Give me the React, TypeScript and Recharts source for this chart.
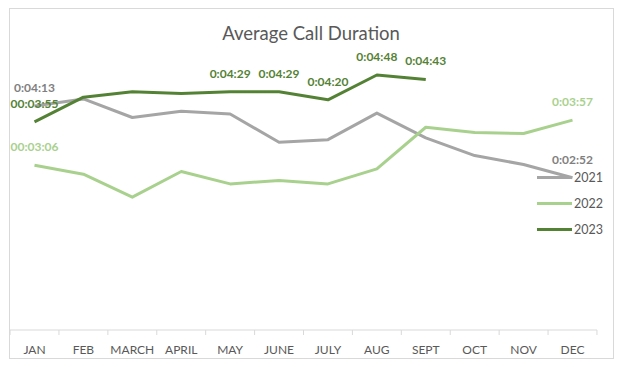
import { LineChart, Line, XAxis, YAxis, Legend, LabelList } from 'recharts';

// durations in seconds
const months = ['JAN', 'FEB', 'MARCH', 'APRIL', 'MAY', 'JUNE', 'JULY', 'AUG', 'SEPT', 'OCT', 'NOV', 'DEC'];
const duration2021 = [253, 261, 240, 247, 244, 212, 215, 245, 217, 197, 187, 172];
const duration2022 = [186, 176, 150, 179, 165, 169, 165, 182, 229, 223, 222, 237];
const duration2023 = [235, 263, 269, 267, 269, 269, 260, 288, 283, null, null, null];

const labels2021 = ['0:04:13', '', '', '', '', '', '', '', '', '', '', '0:02:52'];
const labels2022 = ['00:03:06', '', '', '', '', '', '', '', '', '', '', '0:03:57'];
const labels2023 = ['00:03:55', '', '', '', '0:04:29', '0:04:29', '0:04:20', '0:04:48', '0:04:43', '', '', ''];

const data = months.map((m, i) => ({
  month: m,
  y2021: duration2021[i],
  y2022: duration2022[i],
  y2023: duration2023[i],
}));

const FONT = 'Lato, "Open Sans", sans-serif';
const HALF = 24.45;

const pointLabel = (labels: string[], color: string) => (props: any) => {
  const { x, y, index } = props;
  const txt = labels[index];
  if (!txt) return null;
  return (
    <text x={x} y={y - 14} textAnchor="middle" fill={color} fontSize={12} fontWeight={700} fontFamily={FONT}>
      {txt}
    </text>
  );
};

const MonthTick = (props: any) => {
  const { x, y, payload, index } = props;
  const axisY = y - 8;
  return (
    <g>
      <line x1={x - HALF} x2={x - HALF} y1={axisY} y2={axisY + 5} stroke="#d9d9d9" />
      {index === months.length - 1 && (
        <line x1={x + HALF} x2={x + HALF} y1={axisY} y2={axisY + 5} stroke="#d9d9d9" />
      )}
      <text x={x} y={y + 16} textAnchor="middle" fill="#595959" fontSize={12} fontFamily={FONT}>
        {payload.value}
      </text>
    </g>
  );
};

const renderLegend = (props: any) => {
  const { payload } = props;
  return (
    <div style={{ fontFamily: FONT }}>
      {payload.map((p: any) => (
        <div key={p.value} style={{ display: 'flex', alignItems: 'center', height: 26 }}>
          <div style={{ width: 35, height: 3, background: p.color, marginRight: 2 }} />
          <span style={{ fontSize: 12.5, color: '#595959' }}>{p.value}</span>
        </div>
      ))}
    </div>
  );
};

export default function App() {
  return (
    <div style={{ position: 'absolute', left: 0, top: 0, width: 622, height: 367, background: '#fff' }}>
      <div
        style={{
          position: 'absolute', left: 9, top: 8, width: 605, height: 351,
          border: '1px solid #d9d9d9', boxSizing: 'border-box',
        }}
      />
      <div
        style={{
          position: 'absolute', left: 0, top: 21, width: 622, textAlign: 'center',
          fontFamily: FONT, fontSize: 18.5, lineHeight: '24px', color: '#595959',
        }}
      >
        Average Call Duration
      </div>
      <div style={{ position: 'absolute', left: 0, top: 0 }}>
        <LineChart width={622} height={367} data={data} margin={{ top: 64.4, right: 25, bottom: 7, left: 10 }}>
          <XAxis
            dataKey="month"
            height={30}
            padding={{ left: 24.5, right: 24.5 }}
            axisLine={{ stroke: '#d9d9d9' }}
            tickLine={false}
            interval={0}
            tick={<MonthTick />}
          />
          <YAxis hide type="number" domain={[0, 300]} />
          <Legend
            layout="vertical"
            align="center"
            verticalAlign="middle"
            wrapperStyle={{ left: 537, top: 164, width: 80 }}
            content={renderLegend}
          />
          <Line name="2021" dataKey="y2021" stroke="#A5A5A5" strokeWidth={3} dot={false} strokeLinejoin="round" isAnimationActive={false}>
            <LabelList dataKey="y2021" content={pointLabel(labels2021, '#7F7F7F')} />
          </Line>
          <Line name="2022" dataKey="y2022" stroke="#A9D18E" strokeWidth={3} dot={false} strokeLinejoin="round" isAnimationActive={false}>
            <LabelList dataKey="y2022" content={pointLabel(labels2022, '#A9D18E')} />
          </Line>
          <Line name="2023" dataKey="y2023" stroke="#548235" strokeWidth={3} dot={false} strokeLinejoin="round" isAnimationActive={false}>
            <LabelList dataKey="y2023" content={pointLabel(labels2023, '#548235')} />
          </Line>
        </LineChart>
      </div>
    </div>
  );
}
